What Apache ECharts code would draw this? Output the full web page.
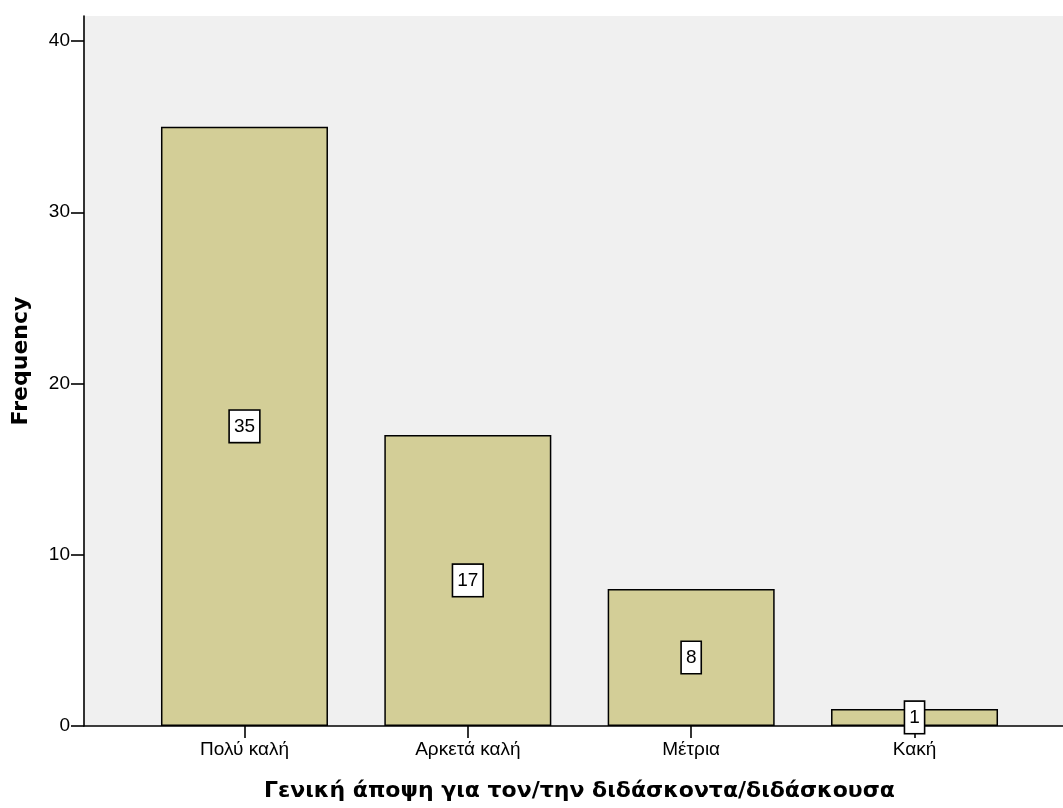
<!DOCTYPE html>
<html><head><meta charset="utf-8">
<script src="https://cdn.jsdelivr.net/npm/echarts@6/dist/echarts.min.js"></script>
<style>html,body{margin:0;padding:0;background:#fff}#c{width:1063px;height:808px}</style>
</head><body><div id="c"></div>
<script>
const categories = ['Πολύ καλή', 'Αρκετά καλή', 'Μέτρια', 'Κακή'];
const frequencies = [35, 17, 8, 1];
const yTicks = [0, 10, 20, 30, 40];
const xTitle = 'Γενική άποψη για τον/την διδάσκοντα/διδάσκουσα';
const yTitle = 'Frequency';

const font = '"Liberation Sans", Arial, sans-serif';
const titleFont = '"DejaVu Sans", sans-serif';
const GRID2_LEFT = 132.8;
const chart = echarts.init(document.getElementById('c'), null, {renderer: 'canvas'});
chart.setOption({
  animation: false,
  grid: [
    {left: 84, right: 0, top: 16, bottom: 82, show: true, backgroundColor: '#f0f0f0', borderWidth: 0},
    {left: GRID2_LEFT, right: 36.8, top: 41, bottom: 82}
  ],
  xAxis: [
    {gridIndex: 0, type: 'value', min: 0, max: 1, axisLine: {show: true, onZero: false, lineStyle: {color: '#000', width: 1.6}},
     axisTick: {show: false}, axisLabel: {show: false}, splitLine: {show: false}},
    {gridIndex: 1, type: 'category', data: categories,
     axisLine: {show: false}, axisTick: {show: true, alignWithLabel: true, length: 12, lineStyle: {color: '#000', width: 1.6}},
     axisLabel: {color: '#000', fontSize: 19, fontFamily: font, margin: 14},
     name: xTitle, nameLocation: 'middle', nameGap: 54,
     nameTextStyle: {color: '#000', fontSize: 22, fontWeight: 'bold', fontFamily: titleFont}}
  ],
  yAxis: [
    {gridIndex: 0, type: 'value', min: 0, max: 1,
     axisLine: {show: true, onZero: false, lineStyle: {color: '#000', width: 1.6}},
     axisTick: {show: false}, axisLabel: {show: false}, splitLine: {show: false},
     name: yTitle, nameLocation: 'middle', nameGap: 52, nameRotate: 90,
     nameTextStyle: {color: '#000', fontSize: 22, fontWeight: 'bold', fontFamily: titleFont, padding: [0, 0, 0, 20]}},
    {gridIndex: 1, type: 'value', min: 0, max: 40, interval: 10, offset: GRID2_LEFT - 84,
     axisLine: {show: false},
     axisTick: {show: true, length: 13, lineStyle: {color: '#000', width: 1.6}},
     axisLabel: {color: '#000', fontSize: 19, fontFamily: font, margin: 14,
       formatter: v => yTicks.includes(v) ? String(v) : ''},
     splitLine: {show: false}}
  ],
  series: [{
    type: 'bar', xAxisIndex: 1, yAxisIndex: 1,
    data: frequencies, barWidth: 167,
    itemStyle: {color: '#d3ce97', borderColor: '#000', borderWidth: 1.5},
    label: {show: true, position: 'inside', color: '#000', fontSize: 19, fontFamily: font,
      backgroundColor: '#fff', borderColor: '#000', borderWidth: 1.6, padding: [6, 4, 5, 4], lineHeight: 20}
  }]
});
</script></body></html>
